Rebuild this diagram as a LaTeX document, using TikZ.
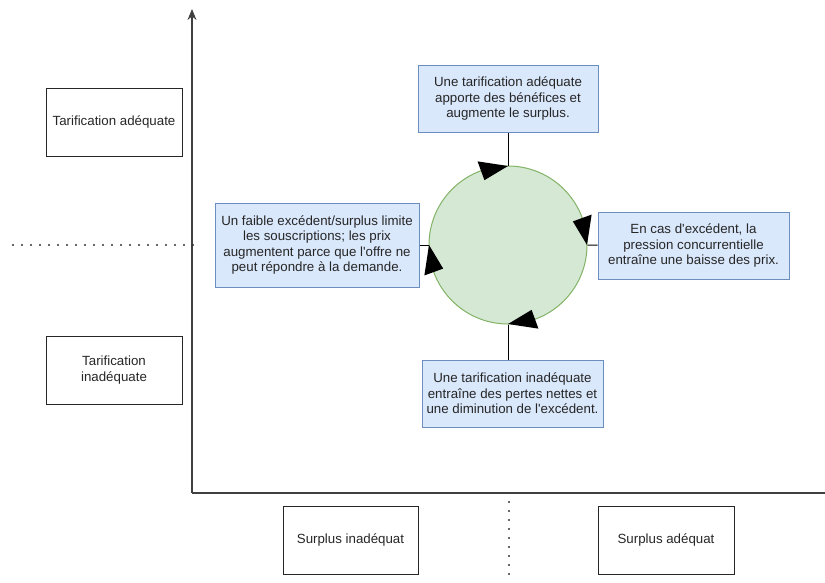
\documentclass[tikz,border=0pt]{standalone}
\usepackage{fontspec}
\setmainfont{Liberation Sans}
\usetikzlibrary{arrows.meta}
\definecolor{bleufond}{HTML}{DAE8FC}
\definecolor{bleutrait}{HTML}{6C8EBF}
\definecolor{vertfond}{HTML}{D5E8D4}
\definecolor{verttrait}{HTML}{82B366}
\begin{document}
\begin{tikzpicture}[x=1pt,y=-1pt,
  font=\fontsize{13.3}{15.5}\selectfont,
  cadre/.style={draw=black!85,line width=1pt,align=center,text=black!85,inner sep=0pt},
  bulle/.style={draw=bleutrait,fill=bleufond,line width=1pt,align=center,text=black!85,inner sep=0pt},
  axe/.style={draw=black!75,line width=1.2pt},
  pointille/.style={draw=black!80,line width=2.2pt,line cap=round,dash pattern=on 0pt off 9pt}]
\useasboundingbox (0,0) rectangle (825,582);

% axes
\coordinate (o) at (192,493);
\coordinate (haut axe) at (192,9);
\coordinate (fin axe) at (825,493);
\draw[axe,-{Stealth[length=11pt,width=9pt]}] (o) -- (haut axe);
\draw[axe] (o) -- (fin axe);

\coordinate (g1) at (13,245);
\coordinate (g2) at (193,245);
\coordinate (b1) at (509,502);
\coordinate (b2) at (509,575);
\draw[pointille] (g1) -- (g2);
\draw[pointille] (b1) -- (b2);

% etiquettes des axes
\node (ta) at (114,122) [cadre,minimum width=136,minimum height=68] {Tarification adéquate};
\node (ti) at (114,370) [cadre,minimum width=136,minimum height=68] {Tarification\\inadéquate};
\node (si) at (350.5,540) [cadre,minimum width=135,minimum height=68] {Surplus inadéquat};
\node (sa) at (666,540) [cadre,minimum width=136,minimum height=68] {Surplus adéquat};

% cycle
\node (cyc) at (508,245) [draw=verttrait,fill=vertfond,line width=1pt,circle,minimum size=158,inner sep=0pt] {};

\node (haut) at (508,98.5) [bulle,minimum width=180,minimum height=67]
  {Une tarification adéquate\\apporte des bénéfices et\\augmente le surplus.};
\node (droite) at (693.5,245.5) [bulle,minimum width=191,minimum height=67]
  {En cas d\textquotesingle excédent, la\\pression concurrentielle\\entraîne une baisse des prix.};
\node (bas) at (512.5,393.5) [bulle,minimum width=181,minimum height=67]
  {Une tarification inadéquate\\entraîne des pertes nettes et\\une diminution de l\textquotesingle excédent.};
\node (gauche) at (317,245) [bulle,minimum width=204,minimum height=84]
  {Un faible excédent/surplus limite\\les souscriptions; les prix\\augmentent parce que l\textquotesingle offre ne\\peut répondre à la demande.};

\draw[line width=1pt] (haut) -- (cyc);
\draw[line width=1pt] (cyc) -- (droite);
\draw[line width=1pt] (cyc.south) -- (cyc.south |- bas.north);
\draw[line width=1pt] (gauche) -- (cyc);

% fleches du cycle
\foreach \a in {270,0,90,180}
  \fill[shift={(cyc.center)}] (\a:79) -- (\a-20:69) -- (\a-20:89) -- cycle;
\end{tikzpicture}
\end{document}
